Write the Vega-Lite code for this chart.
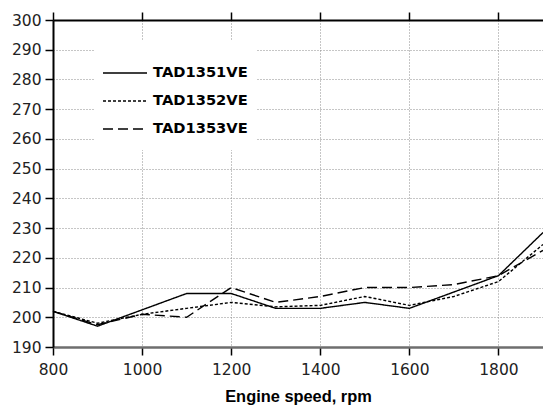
{
  "$schema": "https://vega.github.io/schema/vega-lite/v6.json",
  "width": 490,
  "height": 327,
  "autosize": {"type": "none"},
  "padding": {"left": 53, "top": 20, "right": 0, "bottom": 58},
  "background": "white",
  "config": {
    "view": {"stroke": null},
    "font": "DejaVu Sans",
    "axis": {
      "labelFont": "DejaVu Sans",
      "labelFontSize": 15.5,
      "labelColor": "#222222",
      "labelFlush": false,
      "tickColor": "black",
      "tickWidth": 1.5,
      "tickSize": 8,
      "domainColor": "black",
      "domainWidth": 2,
      "gridColor": "#8c8c8c",
      "gridDash": [1, 2],
      "gridWidth": 1,
      "format": "d"
    }
  },
  "data": {
    "values": [
      {"engine": "TAD1351VE", "rpm": 800, "g": 202},
      {"engine": "TAD1351VE", "rpm": 900, "g": 197},
      {"engine": "TAD1351VE", "rpm": 1000, "g": 202.5},
      {"engine": "TAD1351VE", "rpm": 1100, "g": 208},
      {"engine": "TAD1351VE", "rpm": 1200, "g": 208},
      {"engine": "TAD1351VE", "rpm": 1300, "g": 203},
      {"engine": "TAD1351VE", "rpm": 1400, "g": 203},
      {"engine": "TAD1351VE", "rpm": 1500, "g": 205},
      {"engine": "TAD1351VE", "rpm": 1600, "g": 203},
      {"engine": "TAD1351VE", "rpm": 1700, "g": 208.5},
      {"engine": "TAD1351VE", "rpm": 1800, "g": 214},
      {"engine": "TAD1351VE", "rpm": 1900, "g": 228.5},
      {"engine": "TAD1352VE", "rpm": 800, "g": 202},
      {"engine": "TAD1352VE", "rpm": 900, "g": 198},
      {"engine": "TAD1352VE", "rpm": 1000, "g": 201},
      {"engine": "TAD1352VE", "rpm": 1100, "g": 203},
      {"engine": "TAD1352VE", "rpm": 1200, "g": 205},
      {"engine": "TAD1352VE", "rpm": 1300, "g": 203.5},
      {"engine": "TAD1352VE", "rpm": 1400, "g": 204},
      {"engine": "TAD1352VE", "rpm": 1500, "g": 207},
      {"engine": "TAD1352VE", "rpm": 1600, "g": 204},
      {"engine": "TAD1352VE", "rpm": 1700, "g": 207},
      {"engine": "TAD1352VE", "rpm": 1800, "g": 212},
      {"engine": "TAD1352VE", "rpm": 1900, "g": 224.5},
      {"engine": "TAD1353VE", "rpm": 800, "g": 202},
      {"engine": "TAD1353VE", "rpm": 900, "g": 197.5},
      {"engine": "TAD1353VE", "rpm": 1000, "g": 201},
      {"engine": "TAD1353VE", "rpm": 1100, "g": 200},
      {"engine": "TAD1353VE", "rpm": 1200, "g": 210},
      {"engine": "TAD1353VE", "rpm": 1300, "g": 205},
      {"engine": "TAD1353VE", "rpm": 1400, "g": 207},
      {"engine": "TAD1353VE", "rpm": 1500, "g": 210},
      {"engine": "TAD1353VE", "rpm": 1600, "g": 210},
      {"engine": "TAD1353VE", "rpm": 1700, "g": 211},
      {"engine": "TAD1353VE", "rpm": 1800, "g": 214},
      {"engine": "TAD1353VE", "rpm": 1900, "g": 222.5}
    ]
  },
  "layer": [
    {
      "mark": {"type": "line", "color": "black", "strokeWidth": 1.4},
      "encoding": {
        "x": {
          "field": "rpm",
          "type": "quantitative",
          "scale": {"domain": [800, 1900], "nice": false, "zero": false},
          "axis": {
            "orient": "bottom",
            "values": [800, 1000, 1200, 1400, 1600, 1800],
            "grid": true,
            "domainColor": "#6e6e6e",
            "domainWidth": 2.5,
            "labelPadding": 7,
            "title": "Engine speed, rpm",
            "titleFont": "Liberation Sans",
            "titleFontSize": 16.4,
            "titleFontWeight": "bold",
            "titleColor": "black",
            "titlePadding": 11
          }
        },
        "y": {
          "field": "g",
          "type": "quantitative",
          "scale": {"domain": [190, 300], "nice": false, "zero": false},
          "axis": {
            "values": [190, 200, 210, 220, 230, 240, 250, 260, 270, 280, 290, 300],
            "grid": true,
            "labelPadding": 4,
            "title": null
          }
        },
        "strokeDash": {
          "field": "engine",
          "type": "nominal",
          "scale": {
            "domain": ["TAD1351VE", "TAD1352VE", "TAD1353VE"],
            "range": [[1, 0], [3, 2], [10, 5]]
          },
          "legend": {
            "orient": "none",
            "legendX": 41,
            "legendY": 21,
            "title": " ",
            "titleFontSize": 10,
            "titlePadding": 1,
            "fillColor": "white",
            "padding": 8,
            "symbolType": "stroke",
            "symbolSize": 1936,
            "symbolStrokeWidth": 1.5,
            "symbolStrokeColor": "black",
            "labelFont": "DejaVu Sans",
            "labelFontWeight": "bold",
            "labelFontSize": 14.7,
            "labelColor": "black",
            "labelOffset": 5,
            "clipHeight": 26,
            "rowPadding": 2
          }
        }
      }
    },
    {
      "mark": {"type": "point", "opacity": 0},
      "encoding": {
        "x": {
          "field": "rpm",
          "type": "quantitative",
          "axis": {
            "orient": "top",
            "values": [800, 1000, 1200, 1400, 1600, 1800],
            "labels": false,
            "grid": false,
            "title": null
          }
        },
        "y": {"field": "g", "type": "quantitative", "axis": null}
      }
    }
  ],
  "resolve": {"axis": {"x": "independent", "y": "independent"}}
}
